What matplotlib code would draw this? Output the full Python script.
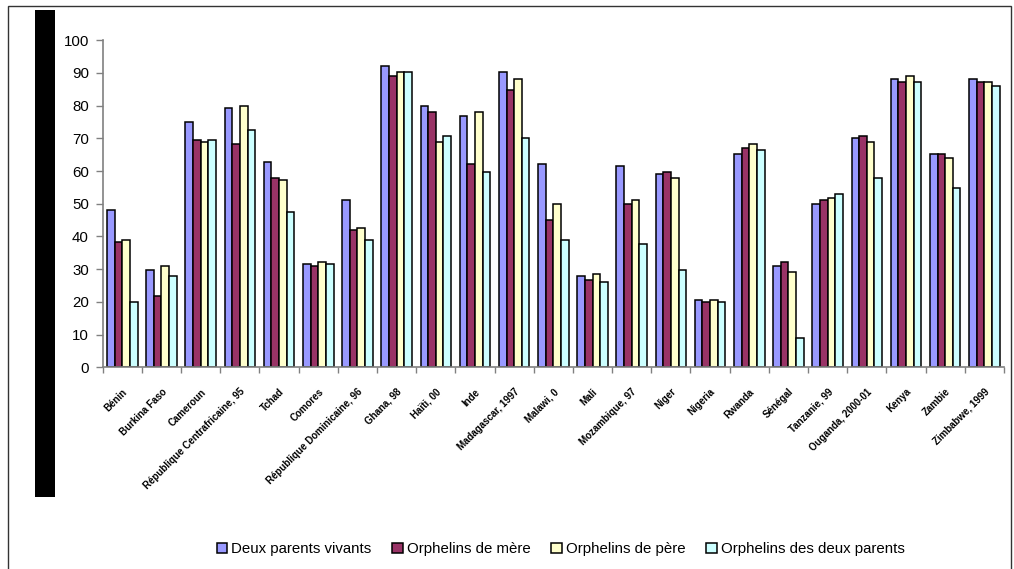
import numpy as np
import matplotlib.pyplot as plt
from matplotlib.patches import Rectangle

plt.rcParams['font.family'] = ['Liberation Sans', 'DejaVu Sans']

# Taux de frequentation scolaire selon le statut d'orphelin, par pays
pays = ["Bénin", "Burkina Faso", "Cameroun", "République Centrafricaine, 95",
        "Tchad", "Comores", "République Dominicaine, 96", "Ghana, 98",
        "Haïti, 00", "Inde", "Madagascar, 1997", "Malawi, 0", "Mali",
        "Mozambique, 97", "Niger", "Nigeria", "Rwanda", "Sénégal",
        "Tanzanie, 99", "Ouganda, 2000-01", "Kenya", "Zambie", "Zimbabwe, 1999"]

deux_parents = [48.2, 29.8, 75.1, 79.4, 62.9, 31.6, 51.2, 92.2, 80.0, 76.9, 90.4, 62.2,
                28.0, 61.6, 59.2, 20.6, 65.3, 31.0, 50.0, 70.2, 88.0, 65.3, 88.0]
orph_mere = [38.3, 21.8, 69.6, 68.4, 58.0, 31.0, 42.0, 89.2, 78.2, 62.2, 84.9, 45.1,
             26.7, 50.0, 59.8, 20.0, 67.1, 32.2, 51.2, 70.8, 87.3, 65.3, 87.3]
orph_pere = [39.0, 31.0, 69.0, 80.0, 57.3, 32.2, 42.7, 90.4, 69.0, 78.2, 88.0, 50.0,
             28.6, 51.2, 58.0, 20.6, 68.4, 29.2, 51.8, 69.0, 89.2, 64.1, 87.3]
orph_deux = [20.0, 28.0, 69.6, 72.7, 47.6, 31.6, 39.0, 90.4, 70.8, 59.8, 70.2, 39.0,
             26.1, 37.8, 29.8, 20.0, 66.5, 9.0, 53.1, 58.0, 87.3, 54.9, 86.1]

series = ["Deux parents vivants", "Orphelins de mère",
          "Orphelins de père", "Orphelins des deux parents"]
couleurs = ["#9999FF", "#993366", "#FFFFCC", "#CCFFFF"]

fig = plt.figure(figsize=(10.14, 5.69), dpi=100)
ax = fig.add_axes([0.1013, 0.3545, 0.8888, 0.5748])

x = np.arange(len(pays))
w = 0.195
for i, vals in enumerate([deux_parents, orph_mere, orph_pere, orph_deux]):
    ax.bar(x + (i - 1.5) * w, vals, width=w, color=couleurs[i],
           edgecolor="black", linewidth=1.1, label=series[i])

ax.set_xlim(-0.5, len(pays) - 0.5)
ax.set_ylim(0, 100)
ax.set_yticks(range(0, 101, 10))
ax.tick_params(axis="y", labelsize=10.8, length=5, width=1, color="#808080", pad=5)

# ticks between the groups, labels under each group
ax.set_xticks(np.arange(len(pays) + 1) - 0.5)
ax.set_xticklabels([])
ax.tick_params(axis="x", which="major", length=4, width=1, color="#808080")
ax.set_xticks(x, minor=True)
ax.set_xticklabels(pays, minor=True, rotation=45, ha="right",
                   rotation_mode="anchor", fontsize=7, fontweight="bold")
ax.tick_params(axis="x", which="minor", length=0, pad=14)

for s in ["top", "right"]:
    ax.spines[s].set_visible(False)
for s in ["left", "bottom"]:
    ax.spines[s].set_color("#808080")
    ax.spines[s].set_linewidth(1.2)

fig.legend(loc="center", bbox_to_anchor=(0.553, 0.035), ncol=4, frameon=False,
           handlelength=0.7, handleheight=0.7, handletextpad=0.25,
           columnspacing=1.4, fontsize=10.8)

# outer frame and the black band on the left
fig.patches.append(Rectangle((8 / 1014, -0.01), 1003 / 1014, 1.0 - 6 / 569 + 0.01,
                             transform=fig.transFigure, fill=False,
                             edgecolor="#333333", linewidth=1.0))
fig.patches.append(Rectangle((35 / 1014, 1 - 497 / 569), 20 / 1014, 487 / 569,
                             transform=fig.transFigure, facecolor="black",
                             edgecolor="none"))

fig.savefig("out.png", dpi=100)
